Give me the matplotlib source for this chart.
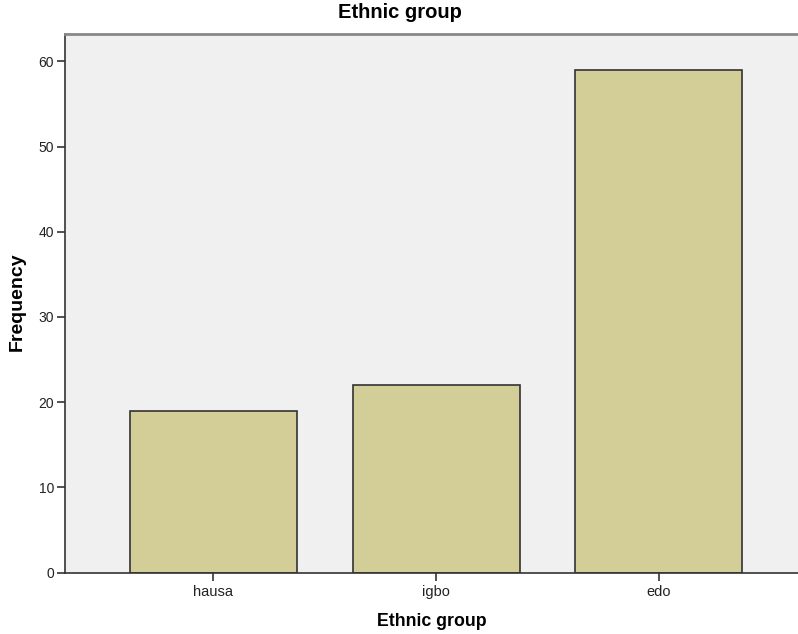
import matplotlib
matplotlib.use("Agg")
import matplotlib.pyplot as plt

categories = ["hausa", "igbo", "edo"]
counts = [19, 22, 59]
yticks = [0, 10, 20, 30, 40, 50, 60]

plt.rcParams["font.family"] = ["Liberation Sans", "DejaVu Sans"]

fig = plt.figure(figsize=(7.98, 6.34), dpi=100)
ax = fig.add_axes([65 / 798, 61.3 / 634, 733 / 798, 538.7 / 634])
ax.set_facecolor("#f0f0f0")

x = list(range(len(categories)))
ax.bar(x, counts, width=0.75, color="#d3ce97", edgecolor="#333333", linewidth=1.2, zorder=2)

ax.set_xlim(-0.667, 2.626)
ax.set_ylim(0, 63.2)
ax.set_xticks(x)
ax.set_xticklabels(categories, fontsize=10.5)
ax.set_yticks(yticks)
ax.set_yticklabels([str(v) for v in yticks], fontsize=10)
ax.tick_params(axis="both", length=6, width=1.2, color="#333333", labelcolor="#222222")
ax.tick_params(axis="y", pad=2)
ax.tick_params(axis="x", pad=3)

for side in ["left", "bottom"]:
    ax.spines[side].set_color("#333333")
    ax.spines[side].set_linewidth(1.2)
ax.spines["right"].set_visible(False)
ax.spines["top"].set_color("#888888")
ax.spines["top"].set_linewidth(2)

fig.text(400 / 798, 1 - 13 / 634, "Ethnic group", ha="center", va="center", fontsize=14.5, fontweight="bold")
fig.text(432 / 798, 1 - 621 / 634, "Ethnic group", ha="center", va="center", fontsize=12.8, fontweight="bold")
fig.text(17 / 798, 1 - 302 / 634, "Frequency", ha="center", va="center", rotation=90, fontsize=14, fontweight="bold")

fig.savefig("out.png", dpi=100)
